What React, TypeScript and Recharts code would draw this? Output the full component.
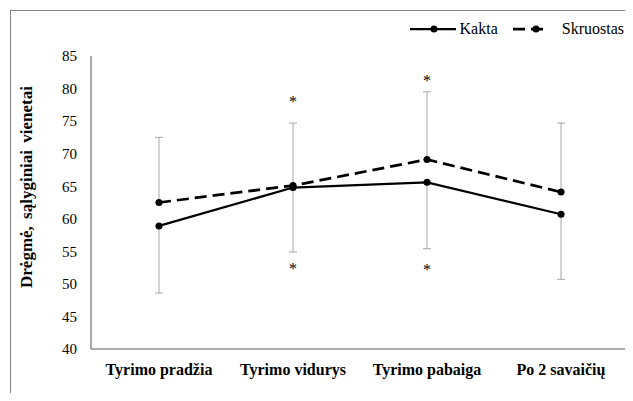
import React from "react";
import { LineChart, Line, XAxis, YAxis, ErrorBar } from "recharts";

const categories = ["Tyrimo pradžia", "Tyrimo vidurys", "Tyrimo pabaiga", "Po 2 savaičių"];
const kakta = [58.9, 64.8, 65.6, 60.7];
const skruostas = [62.5, 65.1, 69.1, 64.1];
// Kakta shows only the lower whisker, Skruostas only the upper one
const kaktaMinus = [10.3, 9.9, 10.2, 10.0];
const skruostasPlus = [10.0, 9.6, 10.4, 10.6];
// significance marks (value level of the asterisk)
const starAbove = [null, 78.3, 81.6, null];
const starBelow = [null, 52.7, 52.5, null];
const yTicks = [40, 45, 50, 55, 60, 65, 70, 75, 80, 85];

const data = categories.map((name, i) => ({
  name,
  kakta: kakta[i],
  skruostas: skruostas[i],
  errK: [kaktaMinus[i], 0],
  errS: [0, skruostasPlus[i]],
  starAbove: starAbove[i],
  starBelow: starBelow[i],
}));

const FONT = '"Liberation Serif", "Times New Roman", serif';

const Star = (props: any) => {
  const { cx, cy, index } = props;
  if (cy == null || isNaN(cy)) return <g key={`s-${index}`} />;
  return (
    <text key={`s-${index}`} x={cx} y={cy + 7.5} textAnchor="middle" fontFamily={FONT} fontSize={16} fill="#000">
      *
    </text>
  );
};

// legend drawn outside the chart so it doesn't eat into the plot height
const LegendBox = () => (
  <div
    style={{
      position: "absolute",
      top: 12,
      right: 9,
      display: "flex",
      alignItems: "center",
      fontFamily: FONT,
      fontSize: 16,
      lineHeight: "18px",
      color: "#000",
      whiteSpace: "nowrap",
    }}
  >
    <svg width={48} height={10}>
      <line x1={0} y1={5} x2={46} y2={5} stroke="#000" strokeWidth={2.25} />
      <circle cx={24} cy={5} r={3.5} fill="#000" />
    </svg>
    <span style={{ paddingLeft: 2, marginRight: 13 }}>Kakta</span>
    <svg width={40} height={10}>
      <line x1={2} y1={5} x2={38} y2={5} stroke="#000" strokeWidth={2.75} strokeDasharray="12 6" />
      <circle cx={25} cy={5} r={3.5} fill="#000" />
    </svg>
    <span style={{ marginLeft: 11 }}>Skruostas</span>
  </div>
);

export default function App() {
  return (
    // negative bottom margin keeps the page at 401px so no scrollbar appears
    <div style={{ position: "relative", width: 625, height: 393, marginBottom: -8 }}>
      <div
        style={{
          position: "absolute",
          left: 2,
          top: 2,
          width: 623,
          height: 391,
          borderTop: "1px solid #808080",
          borderLeft: "1px solid #808080",
          boxSizing: "border-box",
        }}
      />
      <div style={{ position: "absolute", left: 0, top: 0 }}>
        <LineChart width={625} height={393} data={data} margin={{ top: 48, right: 0, bottom: 22, left: 23 }}>
          <XAxis
            dataKey="name"
            padding={{ left: 68, right: 72 }}
            tickLine={false}
            tickSize={0}
            tickMargin={15}
            height={30}
            stroke="#595959"
            tick={{ fontFamily: FONT, fontSize: 16, fontWeight: "bold", fill: "#000" }}
          />
          <YAxis
            domain={[40, 85]}
            ticks={yTicks}
            width={60}
            tickLine={false}
            tickSize={0}
            tickMargin={14}
            stroke="#595959"
            tick={{ fontFamily: FONT, fontSize: 15, fill: "#000" }}
            label={{
              content: () => (
                <text
                  x={18}
                  y={179}
                  transform="rotate(-90 18 179)"
                  textAnchor="middle"
                  dominantBaseline="central"
                  fontFamily={FONT}
                  fontSize={17}
                  fontWeight="bold"
                  fill="#000"
                  style={{ wordSpacing: 3 }}
                >
                  Drėgmė, sąlyginiai vienetai
                </text>
              ),
            }}
          />
          <Line
            dataKey="kakta"
            stroke="#000"
            strokeWidth={2.25}
            dot={{ r: 3.5, fill: "#000", stroke: "#000", strokeWidth: 0 }}
            activeDot={false}
            isAnimationActive={false}
          >
            <ErrorBar dataKey="errK" width={4} strokeWidth={1} stroke="#a6a6a6" direction="y" />
          </Line>
          <Line
            dataKey="skruostas"
            stroke="#000"
            strokeWidth={2.75}
            strokeDasharray="12 6"
            dot={{ r: 3.5, fill: "#000", stroke: "#000", strokeWidth: 0, strokeDasharray: "0" }}
            activeDot={false}
            isAnimationActive={false}
          >
            <ErrorBar dataKey="errS" width={4} strokeWidth={1} stroke="#a6a6a6" direction="y" />
          </Line>
          <Line dataKey="starAbove" stroke="none" dot={Star} activeDot={false} isAnimationActive={false} />
          <Line dataKey="starBelow" stroke="none" dot={Star} activeDot={false} isAnimationActive={false} />
        </LineChart>
      </div>
      <LegendBox />
    </div>
  );
}
